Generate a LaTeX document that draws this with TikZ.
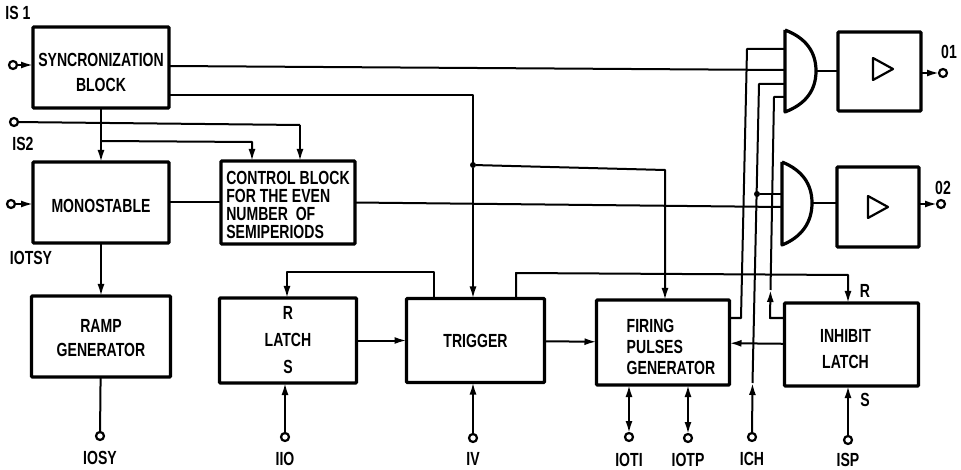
\documentclass[tikz,border=0pt]{standalone}
\usepackage{fontspec}
\setmainfont[FakeStretch=0.74]{Liberation Sans}
\usepackage{tikz}
\usetikzlibrary{arrows.meta, positioning, calc}
\newcommand{\labelfont}{\fontsize{19}{21}\selectfont\bfseries}

\begin{document}
\begin{tikzpicture}[
    x=1pt, y=-1pt,
    every node/.style={font=\labelfont, inner sep=0pt, outer sep=0pt},
    every label/.style={font=\labelfont, inner sep=0pt, align=center},
    block/.style={rectangle, draw, rounded corners=1pt, line width=3.2pt,
                  minimum width=136pt, minimum height=82pt, align=center},
    gate/.style={draw, fill=white, line width=3.2pt, line join=round},
    term/.style={circle, draw, fill=white, line width=2.2pt, minimum size=8pt},
    wire/.style={line width=2pt, line join=round},
    arrow/.style={wire, -{Latex[length=12pt, width=7pt]}},
    biarrow/.style={wire, {Latex[length=12pt, width=7pt]}-{Latex[length=12pt, width=7pt]}},
    dot/.style={circle, fill, minimum size=6pt}
]
\useasboundingbox (0,0) rectangle (961,470);

% left column
\node[block, minimum height=81pt,
      label={[yshift=-5pt]center:SYNCRONIZATION\\[4pt]BLOCK}] (sync) at (101,67.5) {};
\node[block, minimum height=81pt, below=54pt of sync,
      label={[yshift=-3pt]center:MONOSTABLE}] (mono) {};
\node[block, minimum width=139pt, minimum height=81pt, below=53pt of mono,
      label={[yshift=-2pt]center:RAMP\\[3pt]GENERATOR}] (ramp) {};

% middle
\node[block, minimum width=134pt, minimum height=83pt, right=52pt of mono,
      label={[yshift=-2pt, align=left]center:CONTROL BLOCK\\[-3pt]FOR THE EVEN\\[-3pt]NUMBER\ \ OF\\[-3pt]SEMIPERIODS}] (ctrl) {};
\node[block, minimum width=137pt, minimum height=85pt, below=54pt of ctrl] (latch)
     {R\\[6pt]LATCH\\[6pt]S};
\node[block, minimum width=138pt, minimum height=84pt, right=50pt of latch] (trig) {TRIGGER};
\node[block, minimum width=133pt, minimum height=85pt, right=52pt of trig, yshift=-2pt,
      label={[xshift=8pt, yshift=-4pt, align=left]center:FIRING\\PULSES\\GENERATOR}] (fire) {};
\node[block, minimum width=134pt, minimum height=83pt, right=55pt of fire, yshift=-2pt,
      label={[xshift=-6pt, yshift=-5pt]center:INHIBIT\\[5pt]LATCH}] (inh) {};

% output stages
\node[block, minimum width=83pt, minimum height=79pt] (amp1) at (879.5,71.5) {};
\node[block, minimum width=82pt, minimum height=80pt] (amp2) at (878,207) {};
\draw[line width=2.2pt, line join=round] (873,58) -- (893,69) -- (873,80) -- cycle;
\draw[line width=2.2pt, line join=round] (868,196) -- (888,207) -- (868,218) -- cycle;

% and gates
\draw[gate] (785,30) -- (785,112) .. controls (806,104) and (816,90) .. (816,71)
            .. controls (816,52) and (806,38) .. (785,30);
\draw[gate] (782,162) -- (782,245) .. controls (802,237) and (812,222) .. (812,203)
            .. controls (812,184) and (802,170) .. (782,162);
\coordinate (and1a) at (785,49);
\coordinate (and1b) at (785,70);
\coordinate (and1c) at (785,84);
\coordinate (and1d) at (785,97);
\coordinate (and1o) at (816,71);
\coordinate (and2a) at (782,194);
\coordinate (and2b) at (782,207);
\coordinate (and2o) at (812,203);

% terminals
\node[term] (is1)  at (13,65) {};
\node[term] (is2)  at (14,122) {};
\node[term] (ins)  at (11,204) {};
\node[term] (iosy) at (100,436) {};
\node[term] (iio)  at (285,437) {};
\node[term] (iv)   at (473,438) {};
\node[term] (ioti) at (629,437) {};
\node[term] (iotp) at (688,438) {};
\node[term] (ich)  at (752,437) {};
\node[term] (isp)  at (848,440) {};
\node[term] (o1)   at (943,73) {};
\node[term] (o2)   at (941,204) {};

% terminal labels
\node (is1tag) at (18,13) {IS 1};
\node (is2tag) at (23,144) {IS2};
\node (otsytag) at (31,258) {IOTSY};
\node[below=11pt of iosy] (iosytag) {IOSY};
\node[below=11pt of iio] (iiotag) {IIO};
\node[below=10pt of iv] (ivtag) {IV};
\node[below=12pt of ioti] (iotitag) {IOTI};
\node[below=11pt of iotp] (iotptag) {IOTP};
\node[below=11pt of ich] (ichtag) {ICH};
\node[below=9pt of isp] (isptag) {ISP};
\node (o1tag) at (949,52) {01};
\node (o2tag) at (943,188) {02};
\node (rtag) at (865,291) {R};
\node (stag) at (865,400) {S};

% wires of the top half
\draw[arrow] (is1) -- (sync.west |- is1);
\draw[arrow] (ins) -- (mono.west |- ins);
\draw[wire] (sync.east |- 0,66) -- (and1b);
\draw[wire] (sync.east |- 0,95) -- (473,95) -- (473,165);
\node[dot] (split) at (473,165) {};
\draw[arrow] (split) -- (trig.north -| split);
\draw[arrow] (split) -- (665,170) -- (fire.north -| 665,0);
\draw[wire] (is2) -- (300,125);
\draw[arrow] (300,125) -- (ctrl.north -| 300,0);
\draw[arrow] (sync) -- (mono);
\draw[arrow] (101,141) -- (252,142) -- (ctrl.north -| 252,0);
\draw[wire] (mono) -- (ctrl);
\draw[wire] (ctrl.east) -- (and2b);
\draw[arrow] (mono) -- (ramp);
\draw[wire] (and1o) -- (amp1.west |- and1o);
\draw[wire] (and2o) -- (amp2.west |- and2o);
\draw[arrow] (amp1.east |- o1) -- (o1);
\draw[arrow] (amp2.east |- o2) -- (o2);

% wires of the bottom half
\draw[wire] (ramp) -- (iosy);
\draw[arrow] (iio) -- (iio |- latch.south);
\draw[arrow] (iv) -- (iv |- trig.south);
\draw[biarrow] (ioti) -- (ioti |- fire.south);
\draw[biarrow] (iotp) -- (iotp |- fire.south);
\draw[arrow] (isp) -- (isp |- inh.south);
\draw[arrow] (latch) -- (trig);
\draw[arrow] (trig) -- (fire);
\draw[arrow] (inh) -- (fire);
\draw[arrow] (trig.north -| 434,0) -- (434,272) -- (287,272) -- (latch.north -| 287,0);
\draw[arrow] (trig.north -| 516,0) -- (516,273) -- (848,275) -- (inh.north -| 848,0);

% the three long risers
\draw[wire] (fire.east |- 0,318) -- (741,318) -- (747,49) -- (and1a);
\draw[arrow] (ich) -- (752.5,383);
\draw[wire] (752.5,383) -- (759,84) -- (and1c);
\node[dot] (fork) at (757,194) {};
\draw[wire] (fork) -- (and2a);
\draw[arrow] (inh.west |- 0,318) -- (770,318) -- (770.5,290);
\draw[wire] (770.5,290) -- (774,97) -- (and1d);

\end{tikzpicture}
\end{document}
